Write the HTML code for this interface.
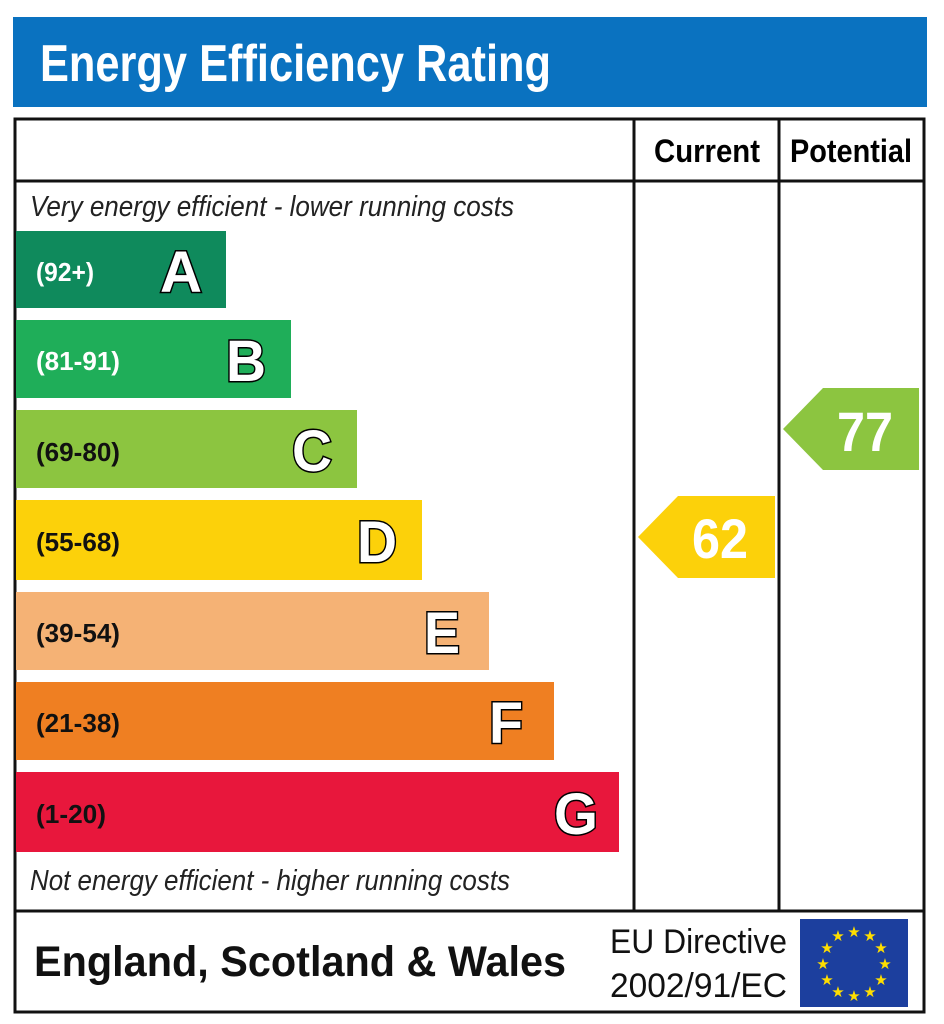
<!DOCTYPE html>
<html><head><meta charset="utf-8"><style>
html,body{margin:0;padding:0;background:#fff}
svg{display:block}
text{font-family:"Liberation Sans",sans-serif}
.l{font-weight:bold;font-size:58px;fill:#fff;stroke:#000;stroke-width:3;paint-order:stroke}
.r{font-weight:bold;font-size:26px}
</style></head><body>
<svg width="944" height="1024" viewBox="0 0 944 1024">
<rect x="13" y="17" width="914" height="90" fill="#0a72c0"/>
<text x="40" y="81" font-size="52" font-weight="bold" fill="#fff" textLength="511" lengthAdjust="spacingAndGlyphs">Energy Efficiency Rating</text>
<rect x="15" y="119" width="909" height="893" fill="none" stroke="#111" stroke-width="3"/>
<line x1="15" y1="181" x2="924" y2="181" stroke="#111" stroke-width="3"/>
<line x1="15" y1="911" x2="924" y2="911" stroke="#111" stroke-width="3"/>
<line x1="634" y1="119" x2="634" y2="911" stroke="#111" stroke-width="3"/>
<line x1="779" y1="119" x2="779" y2="911" stroke="#111" stroke-width="3"/>
<text x="654" y="162" font-size="32" font-weight="bold" textLength="106" lengthAdjust="spacingAndGlyphs">Current</text>
<text x="790" y="162" font-size="32" font-weight="bold" textLength="122" lengthAdjust="spacingAndGlyphs">Potential</text>
<text x="30" y="216" font-size="29" font-style="italic" fill="#222" textLength="484" lengthAdjust="spacingAndGlyphs">Very energy efficient - lower running costs</text>
<text x="30" y="890" font-size="29" font-style="italic" fill="#222" textLength="480" lengthAdjust="spacingAndGlyphs">Not energy efficient - higher running costs</text>

<rect x="16" y="231" width="210" height="77" fill="#0f8a5c"/>
<text x="36" y="281" class="r" fill="#fff" textLength="58" lengthAdjust="spacingAndGlyphs">(92+)</text>
<text x="160" y="292" class="l" textLength="42" lengthAdjust="spacingAndGlyphs">A</text>

<rect x="16" y="320" width="275" height="78" fill="#1fae59"/>
<text x="36" y="370" class="r" fill="#fff" textLength="84" lengthAdjust="spacingAndGlyphs">(81-91)</text>
<text x="226" y="381" class="l" textLength="40" lengthAdjust="spacingAndGlyphs">B</text>

<rect x="16" y="410" width="341" height="78" fill="#8cc540"/>
<text x="36" y="461" class="r" fill="#111" textLength="84" lengthAdjust="spacingAndGlyphs">(69-80)</text>
<text x="292" y="471" class="l" textLength="40" lengthAdjust="spacingAndGlyphs">C</text>

<rect x="16" y="500" width="406" height="80" fill="#fcd10a"/>
<text x="36" y="551" class="r" fill="#111" textLength="84" lengthAdjust="spacingAndGlyphs">(55-68)</text>
<text x="357" y="562" class="l" textLength="40" lengthAdjust="spacingAndGlyphs">D</text>

<rect x="16" y="592" width="473" height="78" fill="#f5b275"/>
<text x="36" y="642" class="r" fill="#111" textLength="84" lengthAdjust="spacingAndGlyphs">(39-54)</text>
<text x="424" y="653" class="l" textLength="36" lengthAdjust="spacingAndGlyphs">E</text>

<rect x="16" y="682" width="538" height="78" fill="#ef7f22"/>
<text x="36" y="732" class="r" fill="#111" textLength="84" lengthAdjust="spacingAndGlyphs">(21-38)</text>
<text x="489" y="743" class="l" textLength="34" lengthAdjust="spacingAndGlyphs">F</text>

<rect x="16" y="772" width="603" height="80" fill="#e8173c"/>
<text x="36" y="823" class="r" fill="#111" textLength="70" lengthAdjust="spacingAndGlyphs">(1-20)</text>
<text x="554" y="834" class="l" textLength="44" lengthAdjust="spacingAndGlyphs">G</text>

<polygon points="638,537 678,496 775,496 775,578 678,578" fill="#fcd10a"/>
<text x="692" y="558" font-size="56" font-weight="bold" fill="#fff" textLength="56" lengthAdjust="spacingAndGlyphs">62</text>
<polygon points="783,429 823,388 919,388 919,470 823,470" fill="#8cc540"/>
<text x="837" y="451" font-size="56" font-weight="bold" fill="#fff" textLength="56" lengthAdjust="spacingAndGlyphs">77</text>

<text x="34" y="976" font-size="43" font-weight="bold" fill="#111" textLength="532" lengthAdjust="spacingAndGlyphs">England, Scotland &amp; Wales</text>
<text x="610" y="953" font-size="34" fill="#111" textLength="177" lengthAdjust="spacingAndGlyphs">EU Directive</text>
<text x="610" y="997" font-size="34" fill="#111" textLength="177" lengthAdjust="spacingAndGlyphs">2002/91/EC</text>
<rect x="800" y="919" width="108" height="88" fill="#1c3f9e"/>
<g fill="#ffde00" font-size="15" text-anchor="middle">
<text x="854" y="937">★</text><text x="870" y="941">★</text><text x="881" y="953">★</text><text x="885" y="969">★</text><text x="881" y="985">★</text><text x="870" y="997">★</text><text x="854" y="1001">★</text><text x="838" y="997">★</text><text x="827" y="985">★</text><text x="823" y="969">★</text><text x="827" y="953">★</text><text x="838" y="941">★</text>
</g>
</svg>
</body></html>
